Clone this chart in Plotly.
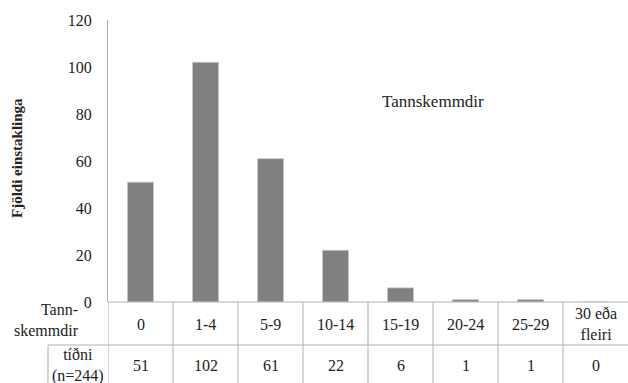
import plotly.graph_objects as go

# Tooth decay counts per group (n = 244)
categories = ["0", "1-4", "5-9", "10-14", "15-19", "20-24", "25-29", "30 eða<br>fleiri"]
frequency = [51, 102, 61, 22, 6, 1, 1, 0]
y_ticks = [0, 20, 40, 60, 80, 100, 120]

FONT = "Times"
LINE = "#b0b0b0"
W, H = 628, 383
M_L, M_R, M_T, M_B = 108, 0, 20, 81
plot_h = H - M_T - M_B


def py(px):
    """Convert a pixel row (from top) to paper y."""
    return (H - M_B - px) / plot_h


x_idx = list(range(len(categories)))

fig = go.Figure(
    go.Bar(
        x=x_idx,
        y=frequency,
        marker=dict(color="#808080", line=dict(width=0.8, color="#c8c8c8")),
        width=0.4,
        hoverinfo="skip",
    )
)

shapes = []
n = len(categories)
# table grid below the plot
for i in range(n):
    shapes.append(dict(type="line", xref="x", yref="paper", x0=i - 0.5, x1=i - 0.5,
                       y0=0, y1=py(383), line=dict(color=LINE, width=1)))
shapes.append(dict(type="line", xref="x", yref="paper", x0=-0.5, x1=n - 0.5,
                   y0=0, y1=0, line=dict(color=LINE, width=1)))
shapes.append(dict(type="line", xref="paper", yref="paper", x0=(48 - M_L) / (W - M_L - M_R),
                   x1=1, y0=py(345), y1=py(345), line=dict(color=LINE, width=1)))
shapes.append(dict(type="line", xref="paper", yref="paper",
                   x0=(48 - M_L) / (W - M_L - M_R), x1=(48 - M_L) / (W - M_L - M_R),
                   y0=py(345), y1=py(383), line=dict(color=LINE, width=1)))

annotations = []
for i, (cat, val) in enumerate(zip(categories, frequency)):
    annotations.append(dict(xref="x", yref="paper", x=i, y=py(324), text=cat,
                            showarrow=False, font=dict(family=FONT, size=16, color="#222"),
                            yanchor="middle", xanchor="center"))
    annotations.append(dict(xref="x", yref="paper", x=i, y=py(366), text=str(val),
                            showarrow=False, font=dict(family=FONT, size=16, color="#222"),
                            yanchor="middle", xanchor="center"))

annotations.append(dict(xref="paper", yref="paper", x=(81 - M_L) / (W - M_L), y=py(320),
                        text="Tann-<br>skemmdir", showarrow=False, align="right",
                        font=dict(family=FONT, size=16, color="#222"),
                        xanchor="right", yanchor="middle"))
annotations.append(dict(xref="paper", yref="paper", x=(78 - M_L) / (W - M_L), y=py(366),
                        text="tíðni<br>(n=244)", showarrow=False, align="center",
                        font=dict(family=FONT, size=16, color="#222"),
                        xanchor="center", yanchor="middle"))
annotations.append(dict(xref="paper", yref="paper", x=(380 - M_L) / (W - M_L), y=py(101),
                        text="Tannskemmdir", showarrow=False,
                        font=dict(family=FONT, size=17, color="#222"),
                        xanchor="left", yanchor="middle"))
annotations.append(dict(xref="paper", yref="paper", x=(17 - M_L) / (W - M_L), y=py(158),
                        text="<b>Fjöldi einstaklinga</b>", showarrow=False, textangle=-90,
                        font=dict(family=FONT, size=15, color="#222"),
                        xanchor="center", yanchor="middle"))

fig.update_layout(
    width=W, height=H,
    margin=dict(l=M_L, r=M_R, t=M_T, b=M_B),
    plot_bgcolor="white", paper_bgcolor="white",
    showlegend=False,
    bargap=0.6,
    shapes=shapes,
    annotations=annotations,
    xaxis=dict(range=[-0.5, n - 0.5], showticklabels=False, showgrid=False,
               zeroline=False, showline=False, ticks=""),
    yaxis=dict(range=[0, 120], tickvals=y_ticks, showgrid=False, zeroline=False,
               showline=True, linecolor=LINE, linewidth=1, ticks="",
               ticklabelstandoff=12,
               tickfont=dict(family=FONT, size=16, color="#222")),
)

fig.write_html("out.html")
